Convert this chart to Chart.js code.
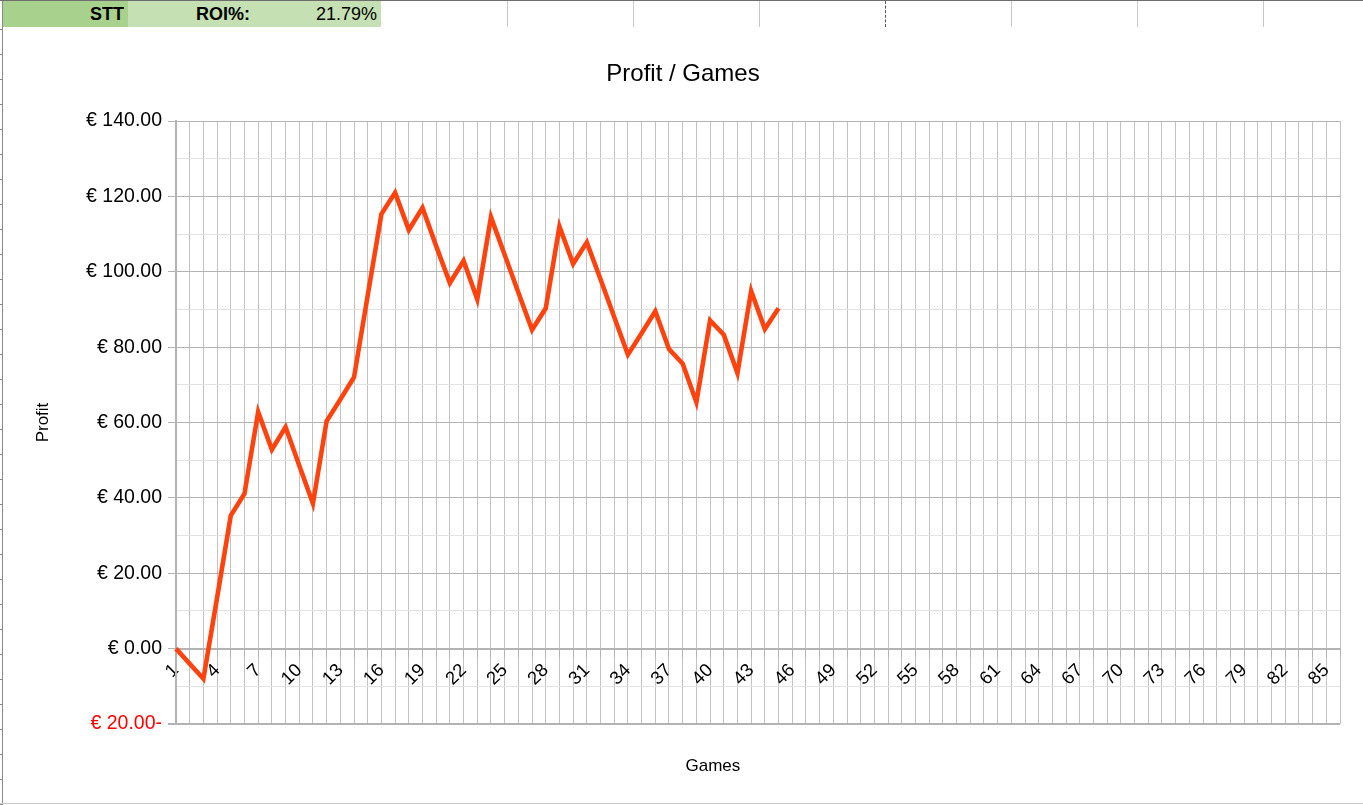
<!DOCTYPE html>
<html>
<head>
<meta charset="utf-8">
<script src="https://cdn.jsdelivr.net/npm/chart.js@4.4.1/dist/chart.umd.min.js"></script>
<style>
  html, body { margin: 0; padding: 0; background: #fff; }
  body { width: 1363px; height: 805px; overflow: hidden; position: relative; font-family: "Liberation Sans", Arial, sans-serif; }
  .topline { position: absolute; left: 0; top: 0; width: 1363px; height: 1px; background: #6e6e6e; }
  .cell { position: absolute; top: 1px; height: 26px; line-height: 26px; font-size: 18px; color: #000; box-sizing: border-box; padding-right: 4px; text-align: right; }
  .colsep { position: absolute; top: 1px; width: 0; height: 26px; border-left: 1px solid #c8c8c8; }
  .colsep.dash { border-left: 1px dashed #555; }
  .leftline { position: absolute; left: 2px; top: 1px; width: 1px; height: 804px; background: #8a8a8a; }
  .rowtick { position: absolute; left: 0; width: 3px; height: 1px; background: #8a8a8a; }
  .bottomline { position: absolute; left: 0; top: 803px; width: 1363px; height: 1px; background: #c8c8c8; }
  #wrap { position: absolute; left: 3px; top: 27px; width: 1360px; height: 776px; background: #fff; }
</style>
</head>
<body>
<div class="topline"></div>
<div class="cell" style="left:3px;width:125px;background:#a9d18e;font-weight:bold;">STT</div>
<div class="cell" style="left:128px;width:126px;background:#c5e0b3;font-weight:bold;">ROI%:</div>
<div class="cell" style="left:254px;width:127px;background:#c5e0b3;">21.79%</div>
<div class="colsep" style="left:507px"></div>
<div class="colsep" style="left:633px"></div>
<div class="colsep" style="left:759px"></div>
<div class="colsep dash" style="left:885px"></div>
<div class="colsep" style="left:1011px"></div>
<div class="colsep" style="left:1137px"></div>
<div class="colsep" style="left:1263px"></div>
<div class="leftline"></div>
<div id="ticks"></div>
<div class="bottomline"></div>
<div id="wrap"><canvas id="c" width="1360" height="776"></canvas></div>
<script>
// ---- data ----
const games = [1,2,3,4,5,6,7,8,9,10,11,12,13,14,15,16,17,18,19,20,21,22,23,24,25,26,27,28,29,30,
  31,32,33,34,35,36,37,38,39,40,41,42,43,44,45,46,47,48,49,50,51,52,53,54,55,56,57,58,59,60,
  61,62,63,64,65,66,67,68,69,70,71,72,73,74,75,76,77,78,79,80,81,82,83,84,85,86];
const profit = [0, -4, -8, 13.5, 35.3, 41.1, 62.8, 52.8, 58.8, 48.6,
  38.5, 60.4, 66.1, 72.0, 93.7, 115.3, 121.0, 111.1, 117.0, 106.8,
  97.0, 102.9, 92.7, 114.5, 104.5, 94.5, 84.6, 90.3, 112.0, 102.1,
  107.8, 98.0, 88.0, 78.0, 83.7, 89.5, 79.5, 75.6, 65.4, 87.1,
  83.3, 73.1, 94.9, 84.8, 90.3];
const yTicks = { min: -20, max: 140, step: 10, labelEvery: 20 };
const labelEveryGames = 3;
const chartTitle = 'Profit / Games';
const yTitle = 'Profit';
const xTitle = 'Games';

// spreadsheet row header ticks (decoration)
(function(){
  const t = document.getElementById('ticks');
  for (let y = 29; y < 805; y += 25) {
    const d = document.createElement('div');
    d.className = 'rowtick'; d.style.top = y + 'px'; t.appendChild(d);
  }
})();

Chart.defaults.font.family = '"Liberation Sans", Arial, sans-serif';
Chart.defaults.color = '#000';

function euro(v) {
  return v < 0 ? '€ ' + Math.abs(v).toFixed(2) + '-' : '€ ' + v.toFixed(2);
}

const xTitlePlugin = {
  id: 'xTitle',
  afterDraw(chart) {
    const ctx = chart.ctx;
    ctx.save();
    ctx.font = '17px "Liberation Sans", Arial, sans-serif';
    ctx.fillStyle = '#000';
    ctx.textAlign = 'center';
    ctx.textBaseline = 'middle';
    ctx.fillText(xTitle, chart.width * 0.522, chart.chartArea.bottom + 42);
    ctx.restore();
  }
};

new Chart(document.getElementById('c'), {
  type: 'line',
  data: {
    labels: games.map(String),
    datasets: [{
      data: profit,
      borderColor: '#ff420e',
      borderWidth: 4.6,
      pointRadius: 0,
      tension: 0,
      fill: false
    }]
  },
  options: {
    responsive: false,
    animation: false,
    devicePixelRatio: 1,
    layout: { padding: { left: 0, right: 0, top: 0, bottom: 79 } },
    plugins: {
      legend: { display: false },
      tooltip: { enabled: false },
      title: {
        display: true,
        text: chartTitle,
        font: { size: 24, weight: 'normal' },
        color: '#000',
        padding: { top: 33, bottom: 32.2 }
      }
    },
    scales: {
      x: {
        type: 'category',
        position: { y: 0 },
        offset: false,
        grid: {
          color: '#c2c2c2',
          lineWidth: 1,
          drawTicks: true,
          tickLength: 7,
          tickColor: '#b3b3b3'
        },
        border: { color: '#b3b3b3', width: 2 },
        ticks: {
          autoSkip: false,
          maxRotation: 45,
          minRotation: 45,
          padding: 4,
          font: { size: 18.5 },
          color: '#000',
          callback: (v, i) => (i % labelEveryGames === 0 ? String(games[i]) : '')
        }
      },
      y: {
        min: yTicks.min,
        max: yTicks.max,
        afterFit: (s) => { s.width = 173; },
        grid: {
          color: (c) => (c.tick.value % yTicks.labelEvery === 0 ? '#b3b3b3' : '#e2e2e2'),
          lineWidth: (c) => (c.tick.value === yTicks.min ? 2 : 1),
          tickLength: 8,
          tickColor: (c) => (c.tick.value % yTicks.labelEvery === 0 ? '#b3b3b3' : 'rgba(0,0,0,0)')
        },
        border: { color: '#b3b3b3', width: 2 },
        ticks: {
          stepSize: yTicks.step,
          padding: 6,
          font: { size: 19.5 },
          color: (c) => (c.tick.value < 0 ? '#ff0000' : '#000'),
          callback: (v) => (v % yTicks.labelEvery === 0 ? euro(v) : '')
        },
        title: {
          display: true,
          text: yTitle,
          font: { size: 17 },
          color: '#000',
          padding: { top: 30, bottom: 0 }
        }
      },
      yRightSpace: {
        type: 'linear',
        position: 'right',
        display: true,
        afterFit: (s) => { s.width = 23; },
        grid: { display: false, drawTicks: false },
        border: { display: false },
        ticks: { display: false }
      }
    }
  },
  plugins: [xTitlePlugin]
});
</script>
</body>
</html>
